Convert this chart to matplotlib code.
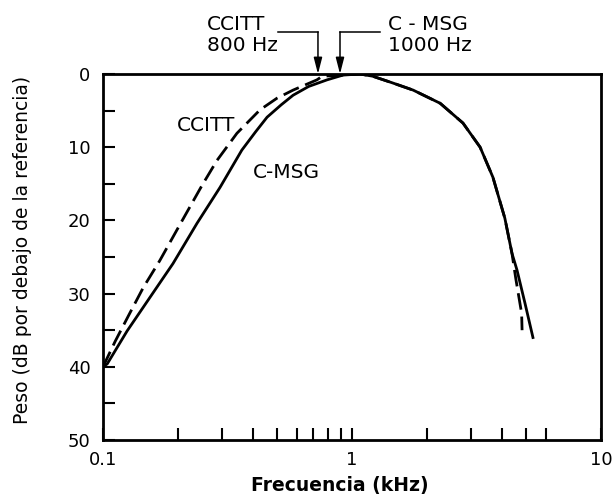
import matplotlib
matplotlib.use('Agg')
import numpy as np
import matplotlib.pyplot as plt
import matplotlib.ticker as mticker
from matplotlib.lines import Line2D
from matplotlib.transforms import blended_transform_factory

# ---- data ----
cmsg_freq = [0.1, 0.104, 0.125, 0.1545, 0.191, 0.2385, 0.295, 0.361, 0.41, 0.456,
             0.52, 0.58, 0.67, 0.794, 0.92, 1.077, 1.21, 1.45, 1.76, 2.26, 2.79,
             3.27, 3.68, 4.11, 4.39, 4.60, 4.95, 5.33]
cmsg_db = [40, 39.6, 35.1, 30.5, 25.9, 20.4, 15.5, 10.4, 7.9, 5.9,
           4.2, 2.9, 1.7, 0.8, 0.15, 0.0, 0.3, 1.2, 2.2, 4.0, 6.7,
           10.0, 14.1, 19.7, 24.5, 26.8, 31.3, 36.0]

ccitt_freq = [0.1, 0.112, 0.128, 0.145, 0.169, 0.205, 0.25, 0.287, 0.345, 0.427,
              0.50, 0.58, 0.723, 0.76, 0.92, 1.077, 1.21, 1.45, 1.76, 2.26, 2.79,
              3.27, 3.68, 4.11, 4.39, 4.55, 4.80, 4.82]
ccitt_db = [40, 36.5, 32.7, 29.2, 25.5, 20.4, 15.2, 11.8, 8.1, 4.9,
            3.3, 2.2, 0.8, 0.3, 0.15, 0.0, 0.3, 1.2, 2.2, 4.0, 6.7,
            10.0, 14.1, 19.7, 24.5, 28.0, 32.7, 35.0]

ref_names = ["CCITT\n800 Hz", "C - MSG\n1000 Hz"]
ref_freqs = [0.73, 0.895]

y_major = [0, 10, 20, 30, 40, 50]
y_minor = [5, 15, 25, 35, 45]
x_major = [0.1, 1, 10]
x_major_labels = ["0.1", "1", "10"]
x_minor = [0.2, 0.3, 0.4, 0.5, 0.6, 0.7, 0.8, 0.9, 2, 3, 4, 5, 6]

plt.rcParams['font.family'] = ['DejaVu Sans']

fig = plt.figure(figsize=(6.16, 4.99), dpi=100)
ax = fig.add_axes([103/616, 1-440/499, (601-103)/616, (440-74)/499])

ax.plot(cmsg_freq, cmsg_db, color='black', lw=2.0, solid_joinstyle='round')
ax.plot(ccitt_freq, ccitt_db, color='black', lw=2.0, dashes=(6, 2.5))

ax.set_xscale('log')
ax.set_xlim(0.1, 10)
ax.set_ylim(50, 0)

ax.set_yticks(y_major)
ax.set_yticks(y_minor, minor=True)
ax.set_yticklabels([str(v) for v in y_major])
ax.xaxis.set_major_locator(mticker.FixedLocator(x_major))
ax.xaxis.set_minor_locator(mticker.FixedLocator(x_minor))
ax.xaxis.set_major_formatter(mticker.FixedFormatter(x_major_labels))
ax.xaxis.set_minor_formatter(mticker.NullFormatter())

ax.tick_params(axis='both', which='both', direction='in', length=8.5, width=1.5,
               labelsize=13)
ax.tick_params(axis='y', which='both', pad=9)
ax.tick_params(axis='x', which='both', pad=8)

for s in ax.spines.values():
    s.set_linewidth(2.0)

# curve labels
ax.text(0.259, 7.1, "CCITT", fontsize=14.5, ha='center', va='center')
ax.text(0.543, 13.5, "C-MSG", fontsize=14.5, ha='center', va='center')

# reference arrows above the plot
trans = blended_transform_factory(ax.transData, ax.transAxes)
text_x = [207, 388]
hor_start = [278, 380]
for name, f, tx, hs in zip(ref_names, ref_freqs, text_x, hor_start):
    fig.text(tx/616, 1-35/499, name, fontsize=14.5, ha='left', va='center',
             linespacing=1.15)
    xf0 = (hs-103)/498
    xdata_frac = (np.log10(f) + 1) / 2
    ax.add_line(Line2D([xf0, xdata_frac], [1.115, 1.115], transform=ax.transAxes,
                       color='black', lw=1.1, clip_on=False))
    ax.annotate('', xy=(f, 1.0), xytext=(f, 1.115), xycoords=trans, textcoords=trans,
                arrowprops=dict(arrowstyle='-|>,head_length=0.7,head_width=0.18',
                                color='black', lw=1.1, shrinkA=0, shrinkB=0,
                                mutation_scale=14))

fig.text(340/616, 1-486/499, "Frecuencia (kHz)", fontsize=13.5, fontweight='bold',
         ha='center', va='center')
fig.text(23/616, 1-250/499, "Peso (dB por debajo de la referencia)", fontsize=13.5,
         rotation=90, ha='center', va='center')

fig.savefig('out.png', dpi=100)
